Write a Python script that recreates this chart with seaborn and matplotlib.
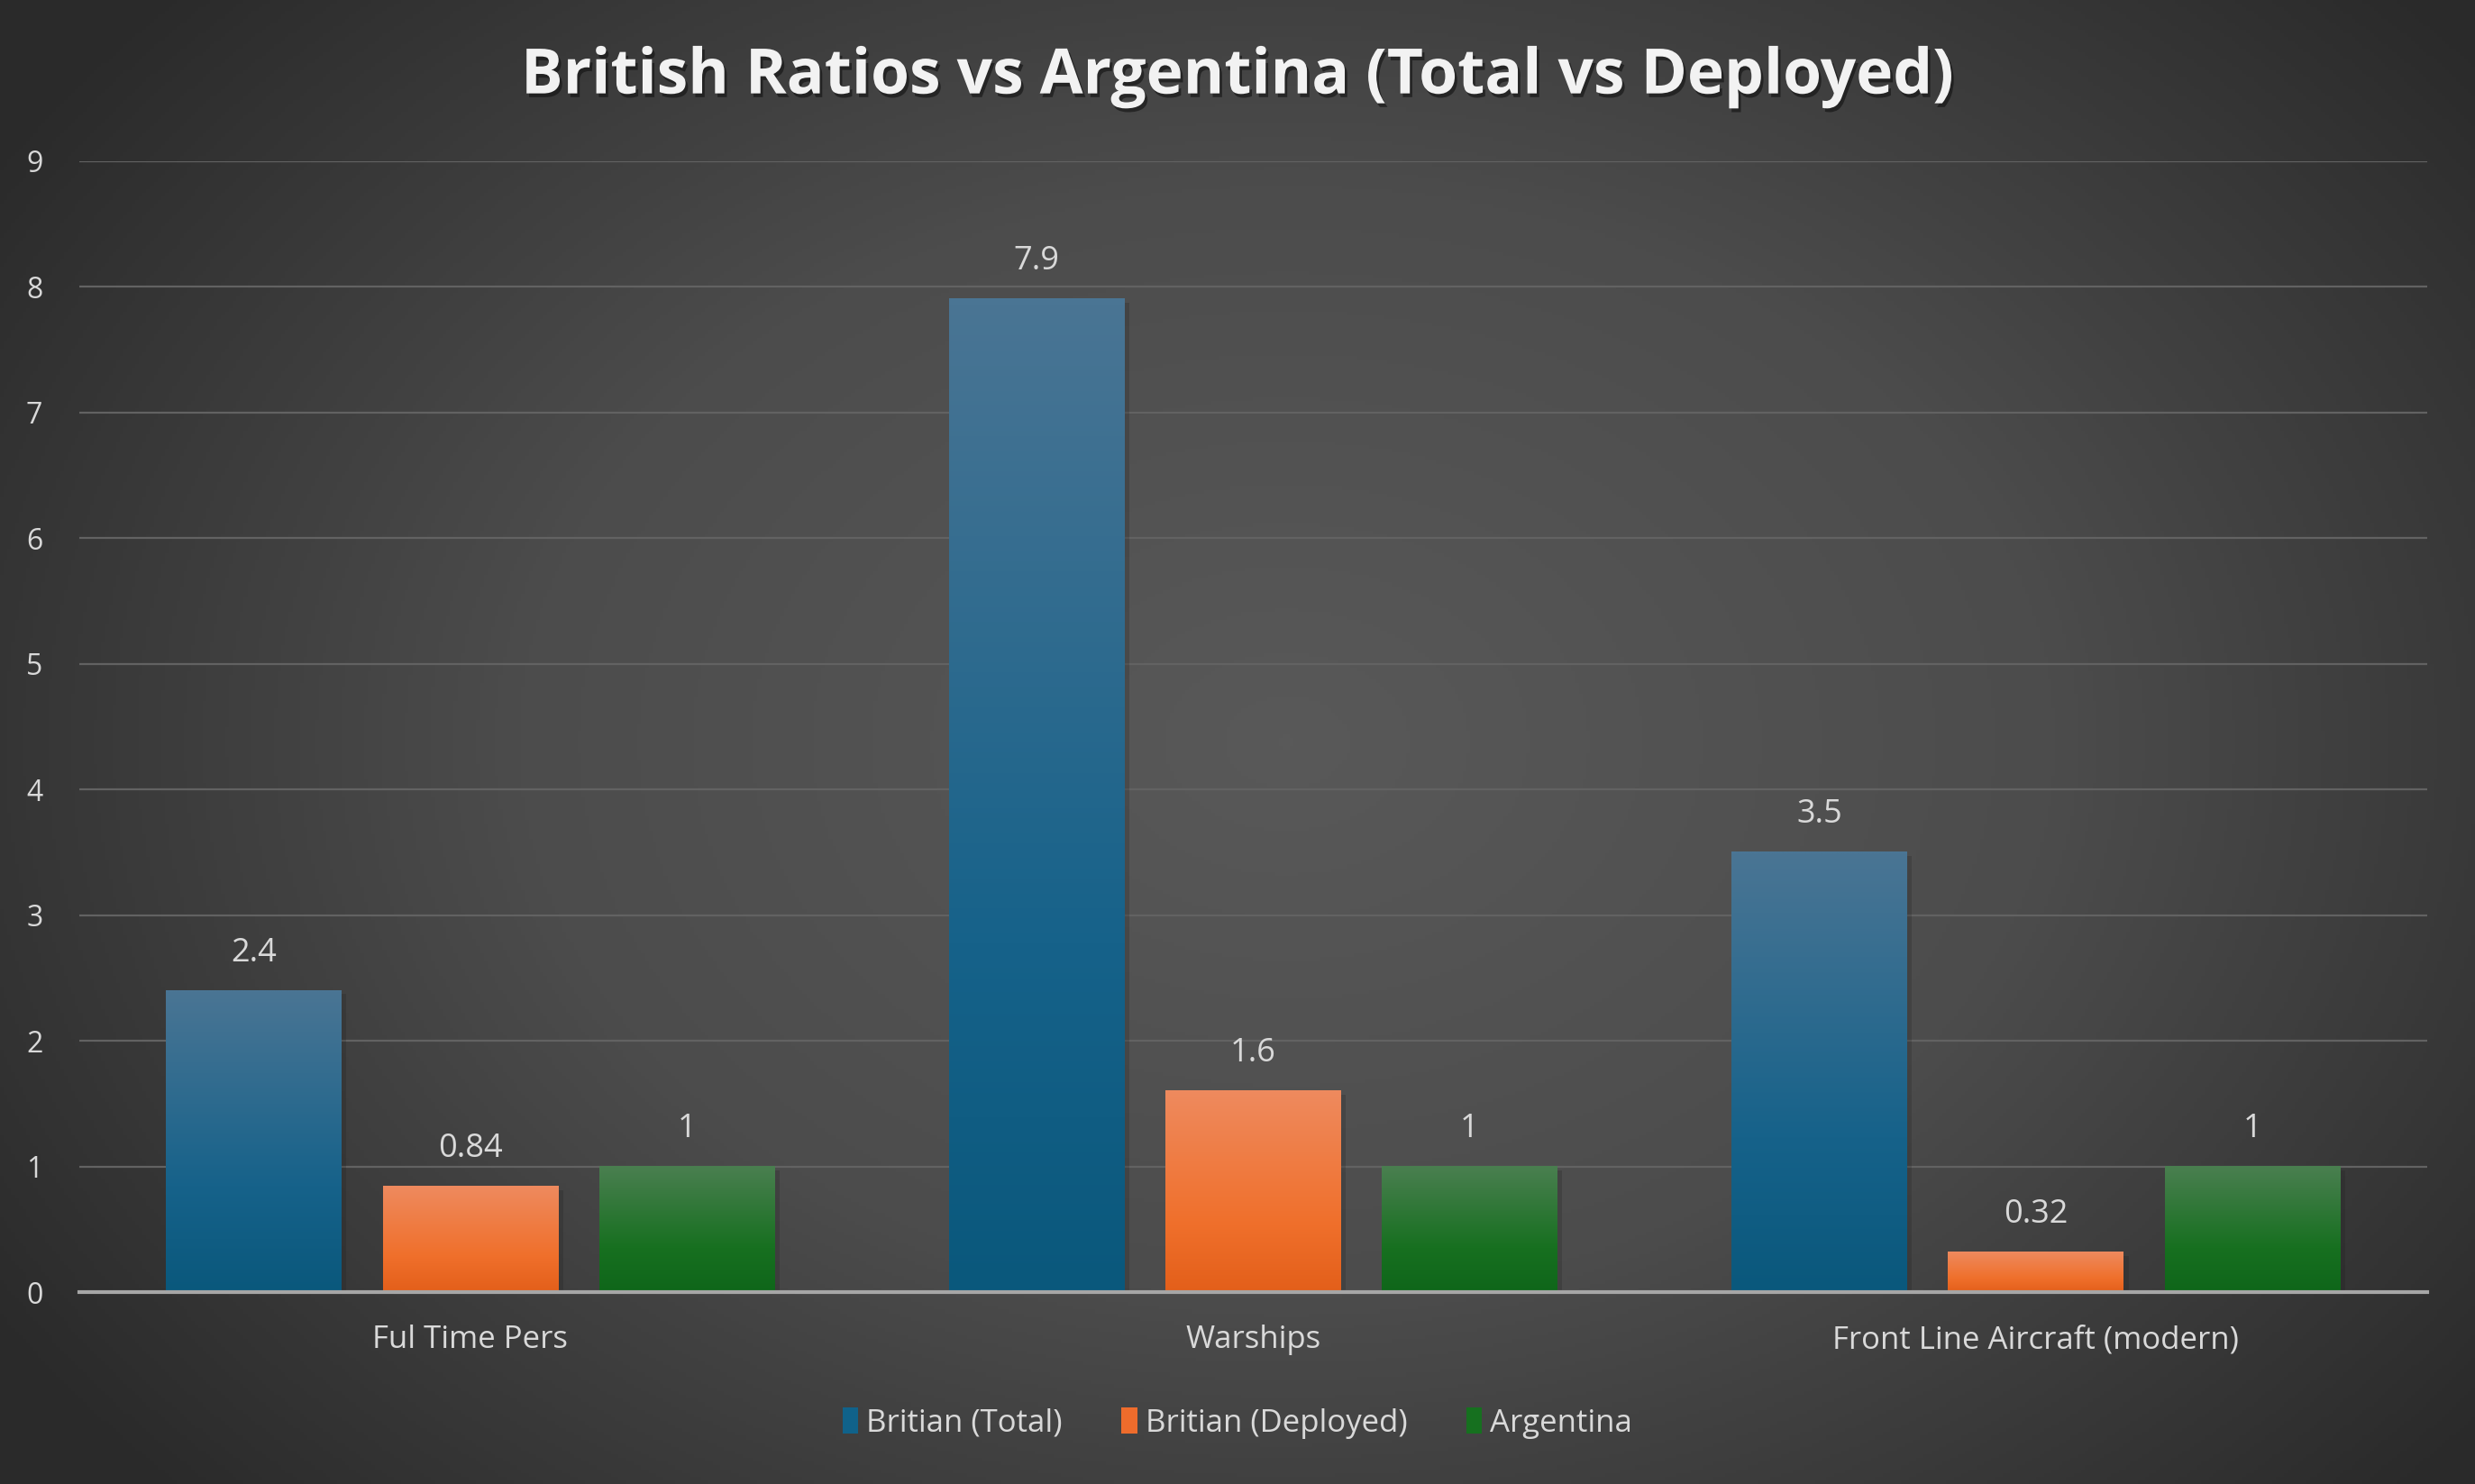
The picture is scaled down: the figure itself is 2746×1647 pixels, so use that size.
import matplotlib
matplotlib.use("Agg")
import matplotlib.pyplot as plt
import matplotlib.patheffects as pe
from matplotlib.colors import LinearSegmentedColormap
import seaborn as sns
import pandas as pd
import numpy as np

# data
categories = ["Ful Time Pers", "Warships", "Front Line Aircraft (modern)"]
series = ["Britian (Total)", "Britian (Deployed)", "Argentina"]
britian_total = [2.4, 7.9, 3.5]
britian_deployed = [0.84, 1.6, 0.32]
argentina = [1, 1, 1]

rows = []
for name, vals in zip(series, [britian_total, britian_deployed, argentina]):
    for cat, v in zip(categories, vals):
        rows.append({"category": cat, "series": name, "ratio": v})
df = pd.DataFrame(rows)

# solid colours for legend, top/mid/bottom for bar gradients
colors = {"Britian (Total)": "#10628a", "Britian (Deployed)": "#ee6c2c", "Argentina": "#16701f"}
grad_stops = {
    "Britian (Total)": ["#4a7594", "#16628a", "#0a587c"],
    "Britian (Deployed)": ["#ee8a5e", "#f0702c", "#e35f1a"],
    "Argentina": ["#4a7f50", "#177020", "#0f661a"],
}

sns.set_theme(style="dark")
plt.rcParams["font.family"] = ["Open Sans", "DejaVu Sans"]
text_col = "#d9d9d9"

fig = plt.figure(figsize=(27.46, 16.47), dpi=100)

# radial background gradient
bg = fig.add_axes([0, 0, 1, 1], zorder=-10)
yy, xx = np.mgrid[0:1:400j, 0:1:660j]
r = np.sqrt(((xx - 0.52) / 0.62) ** 2 + ((yy - 0.5) / 0.75) ** 2)
bg_cmap = LinearSegmentedColormap.from_list("bg", ["#595959", "#4c4c4c", "#2a2a2a"])
bg.imshow(np.clip(r, 0, 1), cmap=bg_cmap, extent=[0, 1, 0, 1], aspect="auto", origin="lower")
bg.axis("off")

ax = fig.add_axes([0.0319, 0.1293, 0.9488, 0.7623])
ax.patch.set_alpha(0)

sns.barplot(data=df, x="category", y="ratio", hue="series", palette=colors,
            width=0.83, gap=0.19, ax=ax, saturation=1, legend=True, linewidth=0)

ax.set_xlim(-0.5, 2.5)
ax.set_ylim(0, 9)
ax.set_yticks(range(0, 10))
ax.yaxis.grid(True, color="#626262", lw=1.6)
ax.xaxis.grid(False)
ax.set_axisbelow(True)
for s in ["top", "right", "left"]:
    ax.spines[s].set_visible(False)
ax.spines["bottom"].set_color("#a6a6a6")
ax.spines["bottom"].set_linewidth(3)
ax.spines["bottom"].set_zorder(5)
ax.tick_params(axis="both", colors=text_col, length=0)
ax.tick_params(axis="x", pad=26, labelsize=25)
ax.tick_params(axis="y", pad=29, labelsize=23)
ax.set_xlabel("")
ax.set_ylabel("")

# gradient fill over each bar
for cont, name in zip(ax.containers, series):
    cmap = LinearSegmentedColormap.from_list(name, grad_stops[name][::-1])
    grad = np.linspace(0, 1, 256).reshape(-1, 1)
    grad = np.where(grad < 0.35, grad * 0.5 / 0.35, 0.5 + (grad - 0.35) * 0.5 / 0.65)
    for bar in cont:
        bar.set_path_effects([pe.SimplePatchShadow(offset=(4, -3), alpha=0.2, shadow_rgbFace="#1a1a1a"),
                              pe.Normal()])
        x0, y0 = bar.get_x(), bar.get_y()
        w, h = bar.get_width(), bar.get_height()
        ax.imshow(grad, cmap=cmap, extent=[x0, x0 + w, y0, y0 + h], origin="lower",
                  aspect="auto", zorder=bar.get_zorder() + 0.1, interpolation="bilinear")
    ax.bar_label(cont, fmt="%g", padding=17, color=text_col, fontsize=26)

ax.set_xlim(-0.5, 2.5)
ax.set_ylim(0, 9)

leg = ax.legend(loc="center", bbox_to_anchor=(0.5, 0.041), bbox_transform=fig.transFigure,
                ncol=3, frameon=False, fontsize=25, handlelength=0.5, handleheight=0.9,
                handletextpad=0.25, columnspacing=1.9)
for t in leg.get_texts():
    t.set_color(text_col)
for h in leg.legend_handles:
    h.set_edgecolor("none")

fig.text(0.5, 0.948, "British Ratios vs Argentina (Total vs Deployed)", ha="center", va="center",
         fontsize=50, fontweight="bold", color="#f2f2f2",
         path_effects=[pe.withSimplePatchShadow(offset=(2, -3), alpha=0.6, shadow_rgbFace="#111111")])

fig.savefig("out.png", dpi=100)
